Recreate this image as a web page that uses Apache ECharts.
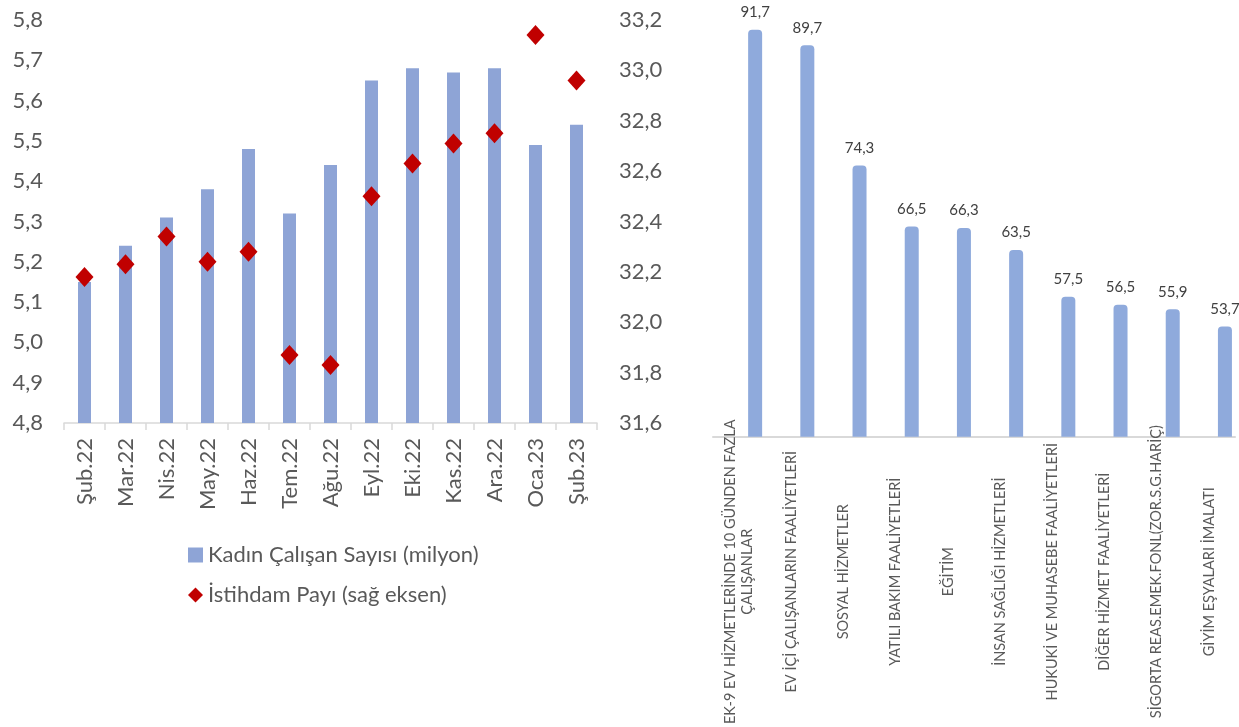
<!DOCTYPE html>
<html>
<head>
<meta charset="utf-8">
<script src="https://cdn.jsdelivr.net/npm/echarts@6/dist/echarts.min.js"></script>
<style>
html,body{margin:0;padding:0;background:#fff;}
#c{width:1239px;height:727px;}
</style>
</head>
<body>
<div id="c"></div>
<script>
const months = ['Şub.22','Mar.22','Nis.22','May.22','Haz.22','Tem.22','Ağu.22','Eyl.22','Eki.22','Kas.22','Ara.22','Oca.23','Şub.23'];
const womenEmployed = [5.15,5.24,5.31,5.38,5.48,5.32,5.44,5.65,5.68,5.67,5.68,5.49,5.54];
const employmentShare = [32.18,32.23,32.34,32.24,32.28,31.87,31.83,32.50,32.63,32.71,32.75,33.14,32.96];
const barName = 'Kadın Çalışan Sayısı (milyon)';
const shareName = 'İstihdam Payı (sağ eksen)';

const sectors = [
  'EK-9 EV HİZMETLERİNDE 10 GÜNDEN FAZLA\nÇALIŞANLAR',
  'EV İÇİ ÇALIŞANLARIN FAALİYETLERİ',
  'SOSYAL HİZMETLER',
  'YATILI BAKIM FAALİYETLERİ',
  'EĞİTİM',
  'İNSAN SAĞLIĞI HİZMETLERİ',
  'HUKUKİ VE MUHASEBE FAALİYETLERİ',
  'DİĞER HİZMET FAALİYETLERİ',
  'SİGORTA REAS.EMEK.FONL(ZOR.S.G.HARİÇ)',
  'GİYİM EŞYALARI İMALATI'
];
const sectorValues = [91.7,89.7,74.3,66.5,66.3,63.5,57.5,56.5,55.9,53.7];
const spacer = [null,null,null,null,null,null,null,null,null,null];

const FONT = 'Lato';
const comma = v => Number(v).toFixed(1).replace('.', ',');

const chart = echarts.init(document.getElementById('c'), null, {renderer:'canvas'});
chart.setOption({
  animation:false,
  backgroundColor:'#ffffff',
  textStyle:{fontFamily:FONT},
  grid:[
    {left:64, top:20, width:533, height:403},
    {left:713, top:7, width:522, height:430}
  ],
  legend:{
    orient:'vertical', left:183, top:537, itemWidth:15, itemHeight:15, itemGap:14,
    textStyle:{fontFamily:FONT, fontSize:22, color:'#595959', lineHeight:26},
    data:[{name:barName, icon:'rect'},{name:shareName, icon:'diamond'}]
  },
  xAxis:[
    {type:'category', gridIndex:0, data:months,
     axisLine:{lineStyle:{color:'#D9D9D9', width:1.5}},
     axisTick:{show:true, length:7, lineStyle:{color:'#D9D9D9', width:1.5}},
     axisLabel:{rotate:90, margin:15, fontFamily:FONT, fontSize:22, color:'#595959'}},
    {type:'category', gridIndex:1, data:sectors,
     axisLine:{lineStyle:{color:'#D9D9D9', width:2}},
     axisTick:{show:false},
     axisLabel:{rotate:90, margin:135, align:'center', verticalAlign:'middle', interval:0,
       fontFamily:FONT, fontSize:14.5, lineHeight:17, color:'#595959'}}
  ],
  yAxis:[
    {type:'value', gridIndex:0, min:4.8, max:5.8, interval:0.1,
     splitLine:{show:false}, axisLine:{show:false}, axisTick:{show:false},
     axisLabel:{margin:21, fontFamily:FONT, fontSize:22, color:'#595959', formatter:comma}},
    {type:'value', gridIndex:0, position:'right', min:31.6, max:33.2, interval:0.2,
     splitLine:{show:false}, axisLine:{show:false}, axisTick:{show:false},
     axisLabel:{margin:22, fontFamily:FONT, fontSize:22, color:'#595959', formatter:comma}},
    {type:'value', gridIndex:1, min:39.6, max:94.6, show:false, splitLine:{show:false}}
  ],
  series:[
    {name:barName, type:'bar', xAxisIndex:0, yAxisIndex:0, data:womenEmployed,
     barWidth:13, itemStyle:{color:'#8EA4D6'}},
    {name:shareName, type:'scatter', xAxisIndex:0, yAxisIndex:1, data:employmentShare,
     symbol:'diamond', symbolSize:[18,20], itemStyle:{color:'#C00000', opacity:1}, z:5},
    {name:'spacer', type:'bar', xAxisIndex:1, yAxisIndex:2, data:spacer,
     barWidth:14, barGap:'129%', itemStyle:{color:'rgba(0,0,0,0)'}},
    {name:'sektor', type:'bar', xAxisIndex:1, yAxisIndex:2, data:sectorValues,
     barWidth:14, barGap:'129%', itemStyle:{color:'#8FAADC', borderRadius:[4,4,0,0]},
     label:{show:true, position:'top', distance:10, fontFamily:FONT, fontSize:15, color:'#404040', formatter:p=>comma(p.value)}}
  ]
});
</script>
</body>
</html>
